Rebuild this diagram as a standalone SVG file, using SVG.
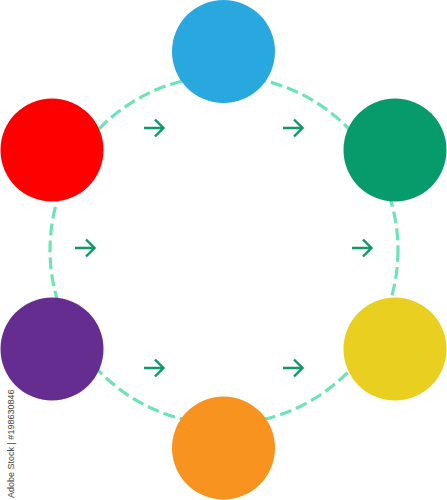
<svg xmlns="http://www.w3.org/2000/svg" width="447" height="500" viewBox="0 0 447 500">
<defs>
<style>
.ring{fill:none;stroke:#6ee3b6;stroke-width:3.2;stroke-dasharray:12 5}
.arr{fill:none;stroke:#0b9966;stroke-width:2.4;stroke-linecap:butt;stroke-linejoin:miter}
.wm{font-family:"Liberation Sans",Arial,sans-serif;font-size:9px;fill:#444}
</style>
<path id="arrow" class="arr" d="M-10,0 H9 M1,-8.5 L9.5,0 L1,8.5"/>
</defs>
<rect width="447" height="500" fill="#ffffff"/>
<g id="connectors">
<circle class="ring" cx="224" cy="250" r="174"/>
<use href="#arrow" x="154" y="128"/>
<use href="#arrow" x="293" y="128"/>
<use href="#arrow" x="85" y="248"/>
<use href="#arrow" x="362" y="248"/>
<use href="#arrow" x="154" y="368"/>
<use href="#arrow" x="293" y="368"/>
</g>
<g id="node-top"><circle cx="223.5" cy="51.5" r="51.5" fill="#29a8e0"/></g>
<g id="node-topright"><circle cx="395" cy="150" r="51.5" fill="#079a6a"/></g>
<g id="node-bottomright"><circle cx="395" cy="349" r="51.5" fill="#e9cf1f"/></g>
<g id="node-bottom"><circle cx="223.5" cy="448" r="51.5" fill="#f7931e"/></g>
<g id="node-bottomleft"><circle cx="52" cy="349" r="51.5" fill="#662d91"/></g>
<g id="node-topleft"><circle cx="52" cy="150" r="51.5" fill="#fe0000"/></g>
<text class="wm" transform="translate(14,498) rotate(-90)">Adobe Stock | #198630846</text>
</svg>
